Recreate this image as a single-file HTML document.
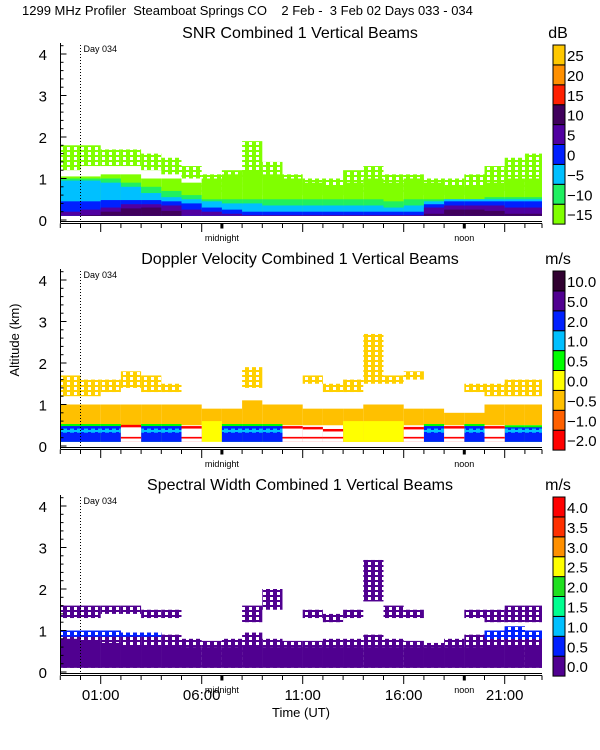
<!DOCTYPE html>
<html><head><meta charset="utf-8">
<style>
html,body{margin:0;padding:0;background:#fff;}
svg{display:block;font-family:"Liberation Sans",sans-serif;}
</style></head>
<body>
<svg id="chart" width="600" height="750" viewBox="0 0 600 750" xmlns="http://www.w3.org/2000/svg">
<defs id="defs"></defs>
<text x="22" y="15" font-size="13" fill="#000" xml:space="preserve">1299 MHz Profiler  Steamboat Springs CO    2 Feb -  3 Feb 02 Days 033 - 034</text>
<text x="0" y="0" font-size="13" text-anchor="middle" transform="translate(19,340) rotate(-90)">Altitude (km)</text>
<text x="301" y="717" font-size="13" text-anchor="middle">Time (UT)</text>
<g id="panels"></g>
</svg>
<script>
// time bins: hour start (UT, relative to Day 034 00:00)
const hours = [-1,0,1,2,3,4,5,6,7,8,9,10,11,12,13,14,15,16,17,18,19,20,21,22];
const xTickLabels = ["01:00","06:00","11:00","16:00","21:00"];
const xTickHours = [1,6,11,16,21];
const yTicks = [0,1,2,3,4];

// SNR layers (km)
const snrLimeLo = [1.2,1.3,1.3,1.3,1.2,1.1,1.0,0.6,0.6,1.0,0.6,0.6,0.6,0.6,0.6,0.6,0.6,0.6,0.6,0.6,0.6,0.7,0.7,0.7];
const snrLimeHi = [1.8,1.8,1.7,1.7,1.6,1.5,1.3,1.1,1.2,1.9,1.4,1.1,1.0,1.0,1.2,1.3,1.1,1.1,1.0,1.0,1.1,1.3,1.5,1.6];
const snrLime2Hi = [1.05,1.05,1.1,1.1,1.0,1.0,0.9,1.0,1.1,1.2,1.1,1.0,0.9,0.8,0.9,1.0,0.9,1.0,0.9,0.8,0.8,0.9,1.0,1.0];
const snrGreenHi = [1.0,1.0,1.0,0.9,0.8,0.7,0.6,0.5,0.5,0.5,0.5,0.5,0.5,0.5,0.5,0.5,0.45,0.5,0.5,0.5,0.5,0.55,0.55,0.55];
const snrCyanHi = [0.95,0.95,0.9,0.8,0.65,0.55,0.5,0.45,0.4,0.4,0.35,0.35,0.35,0.35,0.35,0.35,0.3,0.35,0.45,0.5,0.5,0.5,0.5,0.5];
const snrBlueHi = [0.45,0.45,0.48,0.48,0.48,0.45,0.4,0.3,0.25,0.2,0.2,0.2,0.2,0.2,0.2,0.2,0.2,0.2,0.38,0.45,0.45,0.45,0.45,0.45];
const snrPurpleHi = [0.2,0.25,0.3,0.38,0.38,0.35,0.25,0.2,0.15,0.12,0.12,0.12,0.12,0.12,0.12,0.12,0.12,0.12,0.3,0.35,0.35,0.35,0.3,0.3];
const snrDarkHi = [0.1,0.12,0.2,0.28,0.3,0.22,0.1,0.1,0.1,0.1,0.1,0.1,0.1,0.1,0.1,0.1,0.1,0.1,0.15,0.25,0.25,0.22,0.15,0.15];

// Doppler layers
const dopOrangeLo = [0.5,0.5,0.5,0.5,0.5,0.5,0.5,0.5,0.5,0.5,0.5,0.5,0.5,0.5,0.1,0.1,0.1,0.5,0.5,0.5,0.5,0.5,0.5,0.5];
const dopOrangeHi = [1.0,1.0,1.0,1.0,1.0,1.0,1.0,0.9,0.9,1.1,1.0,1.0,0.9,0.9,0.9,1.0,1.0,0.9,0.9,0.8,0.8,1.0,1.0,1.0];
const dopAloftLo = [1.2,1.2,1.3,1.4,1.3,1.3,0,0,0,1.4,0,0,1.5,1.3,1.3,1.5,1.5,1.6,0,0,1.3,1.2,1.2,1.2];
const dopAloftHi = [1.7,1.6,1.6,1.8,1.7,1.5,0,0,0,1.9,0,0,1.7,1.5,1.6,2.7,1.7,1.8,0,0,1.5,1.5,1.6,1.6];
const dopBand = ["B","B","B","W","B","B","W","Y","B","B","B","W","W","W","Y","Y","Y","W","B","W","B","W","B","B"];
const dopBandTop = [0.48,0.48,0.48,0.45,0.48,0.48,0.42,0.3,0.48,0.48,0.48,0.42,0.4,0.35,0.2,0.2,0.2,0.4,0.48,0.42,0.48,0.42,0.45,0.45];

// Spectral width layers
const swSolidHi = [0.8,0.75,0.7,0.65,0.65,0.65,0.6,0.6,0.6,0.65,0.6,0.6,0.6,0.6,0.6,0.6,0.6,0.6,0.6,0.6,0.6,0.65,0.65,0.65];
const swPurpleHi = [1.0,1.0,1.0,0.95,0.95,0.9,0.8,0.75,0.8,0.95,0.8,0.75,0.75,0.8,0.8,0.9,0.8,0.75,0.7,0.8,0.9,1.0,1.1,1.0];
const swBlueLo = [0.85,0.85,0.85,0.85,0.85,0,0,0,0,0,0,0,0,0,0,0,0,0,0,0,0,0.8,0.8,0.8];
const swBlueHi = [1.0,1.0,1.0,0.95,0.95,0,0,0,0,0,0,0,0,0,0,0,0,0,0,0,0,1.0,1.1,1.0];
const swAloftLo = [1.3,1.3,1.4,1.4,1.3,1.3,0,0,0,1.2,1.5,0,1.3,1.2,1.3,1.7,1.3,1.3,0,0,1.3,1.2,1.2,1.2];
const swAloftHi = [1.6,1.6,1.6,1.6,1.5,1.5,0,0,0,1.6,2.0,0,1.5,1.4,1.5,2.7,1.6,1.5,0,0,1.5,1.5,1.6,1.6];

const snrBar = ["#80ff00","#20f060","#00c0ff","#0020ff","#5000a0","#40005c","#ff2000","#ff9000","#ffc800"];
const snrBarLabels = ["-15","-10","-5","0","5","10","15","20","25"];
const dopBar = ["#ff0000","#ff6000","#ffc000","#ffff00","#00ff00","#00c0ff","#0020ff","#500090","#300030"];
const dopBarLabels = ["-2.0","-1.0","-0.5","0.0","0.5","1.0","2.0","5.0","10.0"];
const swBar = ["#500090","#0020ff","#00c0ff","#00ff90","#20e020","#ffff00","#ff9000","#ff3000","#ff0000"];
const swBarLabels = ["0.0","0.5","1.0","1.5","2.0","2.5","3.0","3.5","4.0"];

const NS="http://www.w3.org/2000/svg";
const X0=60.5, X1=542, PXH=20.2, H0=80.5;
function xs(h){return H0+h*PXH;}
const root=document.getElementById('panels');
const defs=document.getElementById('defs');
function mk(tag,attrs,parent){const e=document.createElementNS(NS,tag);for(const k in attrs)e.setAttribute(k,attrs[k]);(parent||root).appendChild(e);return e;}
let patN=0;
function sparse(color){
  const id='pat'+(patN++);
  const p=mk('pattern',{id:id,patternUnits:'userSpaceOnUse',width:7,height:5},defs);
  mk('rect',{x:0,y:0,width:4,height:5,fill:color},p);
  mk('rect',{x:4,y:0,width:3,height:2,fill:color},p);
  return 'url(#'+id+')';
}

function panel(idx,title,unit,bar,barLabels,layers){
  const off=idx*226;
  const y0=220+off, ppk=41.5;
  const ys=km=>y0-km*ppk;
  const g=mk('g',{});
  
  
  const t=mk('text',{x:300,y:38+off,'font-size':16,'text-anchor':'middle'},g);t.textContent=title;
  
  
  const u=mk('text',{x:558,y:38+off,'font-size':16,'text-anchor':'middle'},g);u.textContent=unit;
  
  
  const dg=mk('g',{},g);
  
  
  layers.forEach(L=>{
    const fill=L.sparse?sparse(L.color):L.color;
    hours.forEach((h,i)=>{
      const lo=L.lo?L.lo[i]:0.1, hi=L.hi[i];
      if(!(hi>lo))return;
      const xa=Math.max(X0,xs(h)), xb=Math.min(X1,xs(h+1));
      if(xb<=xa)return;
      const r=mk('rect',{x:xa,y:ys(hi),width:xb-xa,height:ys(lo)-ys(hi),fill:fill},dg);
      
      
    });
  });
  mk('line',{x1:X0,y1:y0-177,x2:X0,y2:y0+3,stroke:'#000'},g);
  mk('line',{x1:X0,y1:y0+1.5,x2:X1,y2:y0+1.5,stroke:'#000'},g);
  mk('line',{x1:X0,y1:y0+3.5,x2:X1,y2:y0+3.5,stroke:'#000'},g);
  for(let k=0;k<=21;k++){const km=k*0.2;const L=(k%5==0)?6:3;
    mk('line',{x1:X0,y1:ys(km),x2:X0+L,y2:ys(km),stroke:'#000'},g);}
  yTicks.forEach(v=>{const tt=mk('text',{x:47,y:ys(v)+6,'font-size':15,'text-anchor':'end'},g);tt.textContent=v;
    
    });
  for(let h=-1;h<=22;h++){const x=xs(h);if(x<X0-0.5||x>X1)continue;
    const major=xTickHours.includes(h);
    mk('line',{x1:x,y1:y0+3.5,x2:x,y2:y0+(major?12:8),stroke:'#000'},g);}
  mk('line',{x1:X1,y1:y0+3.5,x2:X1,y2:y0+8,stroke:'#000'},g);
  [[7,'midnight'],[19,'noon']].forEach(([h,s])=>{
    mk('rect',{x:xs(h)-1.5,y:y0+3.5,width:3,height:5,fill:'#000'},g);
    const tt=mk('text',{x:xs(h),y:y0+21,'font-size':9,'text-anchor':'middle'},g);tt.textContent=s;
    
    
  });
  mk('line',{x1:xs(0),y1:y0-175,x2:xs(0),y2:y0,stroke:'#000','stroke-dasharray':'1,2'},g);
  const d=mk('text',{x:xs(0)+3,y:y0-168,'font-size':9},g);d.textContent='Day 034';
  
  
  const cb=mk('g',{},g);
  
  
  const top=45+off, bh=19.9;
  bar.forEach((c,i)=>{
    const yy=top+(8-i)*bh;
    mk('rect',{x:553,y:yy,width:12,height:bh,fill:c,stroke:'#000','stroke-width':1},cb);
    const tt=mk('text',{x:567,y:yy+bh/2+6,'font-size':15},cb);
    tt.textContent=barLabels[i].replace('-','\u2212');
    
    
  });
}

panel(0,'SNR Combined 1 Vertical Beams','dB',snrBar,snrBarLabels,[
  {color:'#80ff00',lo:snrLimeLo,hi:snrLimeHi,sparse:true},
  {color:'#80ff00',hi:snrLime2Hi},
  {color:'#20f060',hi:snrGreenHi},
  {color:'#00c0ff',hi:snrCyanHi},
  {color:'#0020ff',hi:snrBlueHi},
  {color:'#5000a0',hi:snrPurpleHi},
  {color:'#40005c',hi:snrDarkHi}
]);

const dopBlueHi = dopBand.map((b,i)=>b==='B'?dopBandTop[i]:0);
const dopGreenHi = dopBand.map((b,i)=>b==='B'?dopBandTop[i]+0.05:0);
const dopCyanHi = dopBand.map((b,i)=>b==='B'?0.42:0);
const dopCyanLo = dopBand.map((b,i)=>b==='B'?0.32:0);
const dopWhiteHi = dopBand.map((b,i)=>b==='W'?dopBandTop[i]:0);
const dopRedHi = dopBand.map((b,i)=>b==='W'?dopBandTop[i]+0.06:0);
const dopYellowHi = dopBand.map((b,i)=>b==='Y'?0.6:0);
const dopThinRed = dopBand.map((b,i)=>b==='W'?0.22:0);
const dopThinLo = dopBand.map((b,i)=>b==='W'?0.18:0);
panel(1,'Doppler Velocity Combined 1 Vertical Beams','m/s',dopBar,dopBarLabels,[
  {color:'#ffc000',lo:dopOrangeLo,hi:dopOrangeHi},
  {color:'#ffd000',lo:dopAloftLo,hi:dopAloftHi,sparse:true},
  {color:'#ffff00',hi:dopYellowHi},
  {color:'#00ff00',hi:dopGreenHi},
  {color:'#0020ff',hi:dopBlueHi},
  {color:'#00c0ff',lo:dopCyanLo,hi:dopCyanHi,sparse:true},
  {color:'#ff0000',hi:dopRedHi},
  {color:'#ffffff',hi:dopWhiteHi},
  {color:'#ff0000',lo:dopThinLo,hi:dopThinRed}
]);

panel(2,'Spectral Width Combined 1 Vertical Beams','m/s',swBar,swBarLabels,[
  {color:'#500090',lo:swAloftLo,hi:swAloftHi,sparse:true},
  {color:'#500090',hi:swPurpleHi,sparse:true},
  {color:'#500090',hi:swSolidHi},
  {color:'#0020ff',lo:swBlueLo,hi:swBlueHi,sparse:true}
]);

xTickHours.forEach((h,i)=>{
  const t=document.createElementNS(NS,'text');
  t.setAttribute('x',xs(h));t.setAttribute('y',700);t.setAttribute('font-size',15);t.setAttribute('text-anchor','middle');
  t.textContent=xTickLabels[i];
  
  
  root.appendChild(t);
});
</script>
</body></html>
